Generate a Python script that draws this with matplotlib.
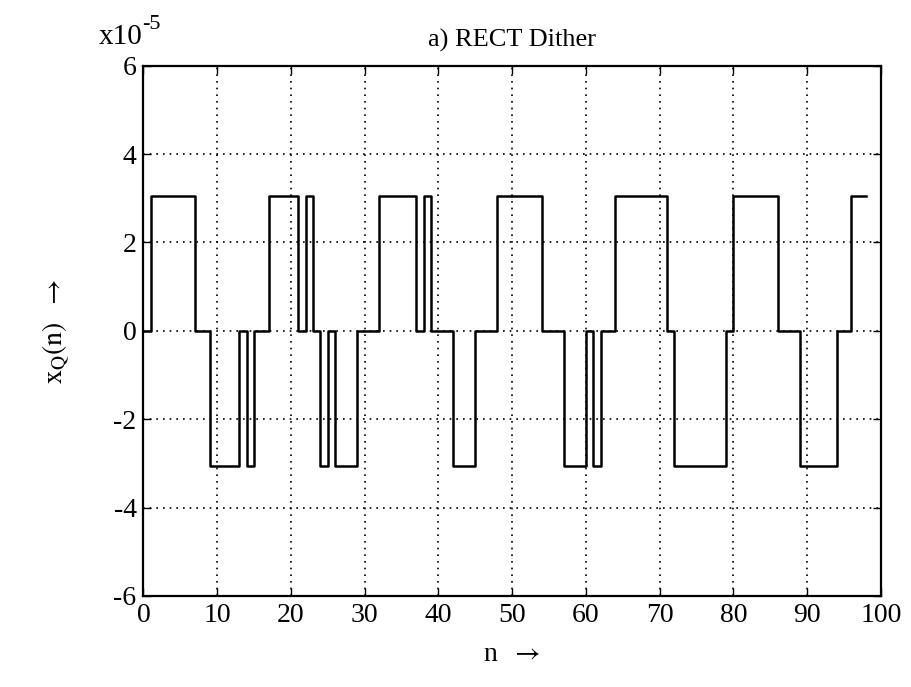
import numpy as np
import matplotlib
matplotlib.use("Agg")
from matplotlib import pyplot as plt

# quantizer output, in steps of Q = 2^-15 (levels -1, 0, +1)
q_step = 2.0 ** -15
levels = [0, 1, 1, 1, 1, 1, 1, 0, 0, -1, -1, -1, -1, 0, -1, 0, 0, 1, 1, 1,
          1, 0, 1, 0, -1, 0, -1, -1, -1, 0, 0, 0, 1, 1, 1, 1, 1, 0, 1, 0,
          0, 0, -1, -1, -1, 0, 0, 0, 1, 1, 1, 1, 1, 1, 0, 0, 0, -1, -1, -1,
          0, -1, 0, 0, 1, 1, 1, 1, 1, 1, 1, 0, -1, -1, -1, -1, -1, -1, -1, 0,
          1, 1, 1, 1, 1, 1, 0, 0, 0, -1, -1, -1, -1, -1, 0, 0, 1, 1, 1]
n = np.arange(len(levels))
xq = np.array(levels) * q_step

x_ticks = [0, 10, 20, 30, 40, 50, 60, 70, 80, 90, 100]
y_ticks = [-6, -4, -2, 0, 2, 4, 6]

plt.rcParams['font.family'] = ['Liberation Serif', 'DejaVu Serif']
plt.rcParams['mathtext.fontset'] = 'stix'
plt.rcParams['axes.unicode_minus'] = False

fig = plt.figure(figsize=(9.11, 6.87), dpi=100)
ax = fig.add_axes([0.1575, 0.1325, 0.8095, 0.772])

# plot in units of 1e-5
ax.step(n, xq * 1e5, where='post', color='black', lw=1.8)

ax.set_xlim(0, 100)
ax.set_ylim(-6, 6)
ax.set_xticks(x_ticks)
ax.set_yticks(y_ticks)
ax.tick_params(direction='in', top=True, right=True, length=6, width=1,
               labelsize=20, pad=5)
ax.grid(True, color='black', linestyle=(0, (1, 3)), linewidth=1.2)
for s in ax.spines.values():
    s.set_linewidth(1.6)

ax.set_title('a) RECT Dither', fontsize=19, pad=14)
ax.set_xlabel(r'n  $\rightarrow$', fontsize=20, labelpad=10)
ax.set_ylabel(r'$\mathrm{x_Q(n)}$  $\rightarrow$', fontsize=20, labelpad=30)
# exponent note above the y axis
fig.text(0.108, 0.936, 'x10', fontsize=21)
fig.text(0.156, 0.958, '-5', fontsize=16)

fig.savefig('out.png', dpi=100)
